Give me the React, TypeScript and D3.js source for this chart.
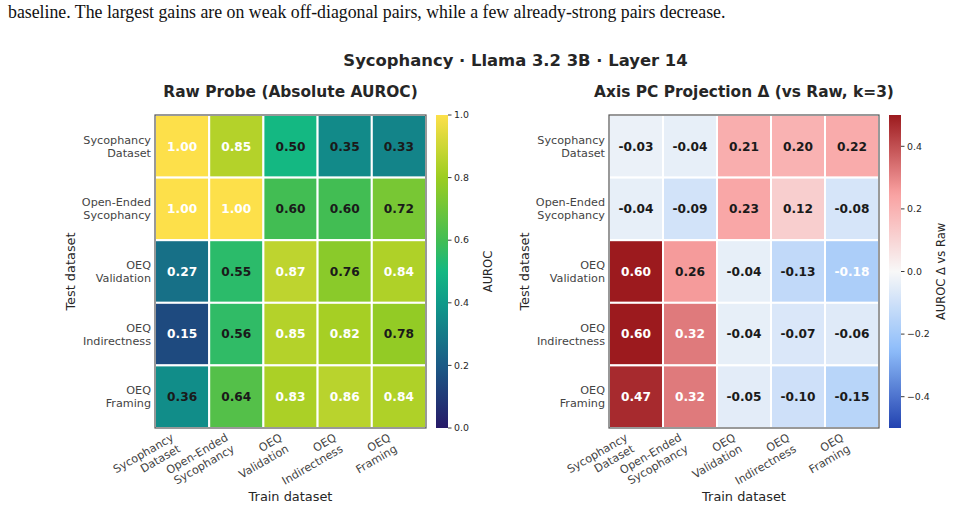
import React from 'react';
import * as d3 from 'd3';

// Row / column categories (two-line labels)
const trainSets = [
  ['Sycophancy', 'Dataset'],
  ['Open-Ended', 'Sycophancy'],
  ['OEQ', 'Validation'],
  ['OEQ', 'Indirectness'],
  ['OEQ', 'Framing'],
];
const testSets = trainSets;

// Raw probe AUROC, rows = test dataset, cols = train dataset
const rawAuroc = [
  [1.0, 0.85, 0.5, 0.35, 0.33],
  [1.0, 1.0, 0.6, 0.6, 0.72],
  [0.27, 0.55, 0.87, 0.76, 0.84],
  [0.15, 0.56, 0.85, 0.82, 0.78],
  [0.36, 0.64, 0.83, 0.86, 0.84],
];

// AUROC change of the axis PC projection relative to the raw probe
const deltaAuroc = [
  [-0.03, -0.04, 0.21, 0.2, 0.22],
  [-0.04, -0.09, 0.23, 0.12, -0.08],
  [0.6, 0.26, -0.04, -0.13, -0.18],
  [0.6, 0.32, -0.04, -0.07, -0.06],
  [0.47, 0.32, -0.05, -0.1, -0.15],
];

const rawTicks = [0, 0.2, 0.4, 0.6, 0.8, 1.0];
const deltaTicks = [-0.4, -0.2, 0, 0.2, 0.4];

const caption =
  'baseline. The largest gains are on weak off-diagonal pairs, while a few already-strong pairs decrease.';

const SANS = '"DejaVu Sans", Verdana, sans-serif';
const INK = '#262626';

const rawColor = d3
  .scaleLinear<string>()
  .domain([0, 0.2, 0.4, 0.5, 0.6, 0.8, 1.0])
  .range(['#271a68', '#1b5a86', '#0f9a8a', '#14b882', '#42bd53', '#9ccd20', '#fde04a'])
  .interpolate(d3.interpolateRgb)
  .clamp(true);

const deltaColor = d3
  .scaleLinear<string>()
  .domain([-0.5, -0.25, 0, 0.25, 0.5])
  .range(['#2242b0', '#8ebdfa', '#f8f8f8', '#f9a0a0', '#9c1a1e'])
  .interpolate(d3.interpolateRgb)
  .clamp(true);

type PanelProps = {
  id: string;
  x0: number;
  x1: number;
  title: string;
  values: number[][];
  color: (v: number) => string;
  domain: [number, number];
  ticks: number[];
  tickFmt: (v: number) => string;
  cbLabel: string;
  whiteText: (v: number) => boolean;
};

const Y0 = 115;
const Y1 = 428;

function Heatmap(p: PanelProps) {
  const x = d3.scaleBand<number>().domain(d3.range(trainSets.length)).range([p.x0, p.x1]);
  const y = d3.scaleBand<number>().domain(d3.range(testSets.length)).range([Y0, Y1]);
  const cbX = p.x1 + 10;
  const cbW = 12;
  const cy = d3.scaleLinear().domain(p.domain).range([Y1, Y0]);
  const gradStops = d3.range(0, 1.0001, 0.02).map((t) => ({
    t,
    c: p.color(p.domain[0] + t * (p.domain[1] - p.domain[0])),
  }));
  const midX = (p.x0 + p.x1) / 2;
  const midY = (Y0 + Y1) / 2;

  return (
    <g>
      <defs>
        <linearGradient id={p.id} x1="0" y1="1" x2="0" y2="0">
          {gradStops.map((s) => (
            <stop key={s.t} offset={s.t} stopColor={s.c} />
          ))}
        </linearGradient>
      </defs>

      <text x={midX} y={96.5} textAnchor="middle" fontFamily={SANS} fontWeight="bold" fontSize={15.4} fill={INK}>
        {p.title}
      </text>

      {p.values.map((row, r) =>
        row.map((v, c) => (
          <g key={`${r}-${c}`}>
            <rect
              x={x(c)}
              y={y(r)}
              width={x.bandwidth()}
              height={y.bandwidth()}
              fill={p.color(v)}
              stroke="#fff"
              strokeWidth={2}
            />
            <text
              x={(x(c) as number) + x.bandwidth() / 2}
              y={(y(r) as number) + y.bandwidth() / 2}
              dy="0.36em"
              textAnchor="middle"
              fontFamily={SANS}
              fontWeight="bold"
              fontSize={12.2}
              fill={p.whiteText(v) ? '#ffffff' : '#1a1a1a'}
            >
              {v.toFixed(2)}
            </text>
          </g>
        ))
      )}
      <rect x={p.x0} y={Y0} width={p.x1 - p.x0} height={Y1 - Y0} fill="none" stroke="#555" strokeWidth={1.2} />

      {/* row labels */}
      {testSets.map((lines, r) => (
        <text
          key={r}
          x={p.x0 - 4}
          y={(y(r) as number) + y.bandwidth() / 2}
          textAnchor="end"
          fontFamily={SANS}
          fontSize={11.2}
          fill="#444"
        >
          <tspan x={p.x0 - 4} dy={-2.5}>{lines[0]}</tspan>
          <tspan x={p.x0 - 4} dy={13}>{lines[1]}</tspan>
        </text>
      ))}

      {/* column labels, rotated */}
      {trainSets.map((lines, c) => {
        const cx = (x(c) as number) + x.bandwidth() / 2;
        return (
          <text
            key={c}
            transform={`translate(${cx - 12},${Y1 + 4}) rotate(-30)`}
            textAnchor="end"
            fontFamily={SANS}
            fontSize={11.2}
            fill="#444"
          >
            <tspan x={0} dy={9}>{lines[0]}</tspan>
            <tspan x={0} dy={13}>{lines[1]}</tspan>
          </text>
        );
      })}

      <text x={midX} y={501} textAnchor="middle" fontFamily={SANS} fontSize={12.9} fill={INK}>
        Train dataset
      </text>
      <text
        transform={`translate(${p.x0 - 80},${midY}) rotate(-90)`}
        textAnchor="middle"
        fontFamily={SANS}
        fontSize={12.9}
        fill={INK}
      >
        Test dataset
      </text>

      {/* colour bar */}
      <rect x={cbX} y={Y0} width={cbW} height={Y1 - Y0} fill={`url(#${p.id})`} />
      {p.ticks.map((t) => (
        <g key={t}>
          <line x1={cbX + cbW} x2={cbX + cbW + 3.5} y1={cy(t)} y2={cy(t)} stroke={INK} strokeWidth={0.9} />
          <text x={cbX + cbW + 6} y={cy(t)} dy="0.35em" fontFamily={SANS} fontSize={9.4} fill={INK}>
            {p.tickFmt(t)}
          </text>
        </g>
      ))}
      <text
        transform={`translate(${cbX + 56},${midY}) rotate(-90)`}
        textAnchor="middle"
        fontFamily={SANS}
        fontSize={11.5}
        fill={INK}
      >
        {p.cbLabel}
      </text>
    </g>
  );
}

export default function App() {
  const fmt = (v: number) => (v < 0 ? '\u2212' : '') + Math.abs(v).toFixed(1);
  return (
    <svg
      width={960}
      height={510}
      viewBox="0 0 960 510"
      style={{ position: 'absolute', left: 0, top: 0, background: '#fff' }}
    >
      <text x={8} y={18} fontFamily='"Liberation Serif", "Times New Roman", serif' fontSize={17.8} fill="#111">
        {caption}
      </text>
      <text x={515.5} y={66} textAnchor="middle" fontFamily={SANS} fontWeight="bold" fontSize={16.4} fill={INK}>
        Sycophancy · Llama 3.2 3B · Layer 14
      </text>
      <Heatmap
        id="cb-raw"
        x0={155}
        x1={426}
        title="Raw Probe (Absolute AUROC)"
        values={rawAuroc}
        color={rawColor}
        domain={[0, 1]}
        ticks={rawTicks}
        tickFmt={fmt}
        cbLabel="AUROC"
        whiteText={(v) => v > 0.8 || v < 0.3}
      />
      <Heatmap
        id="cb-delta"
        x0={609}
        x1={879}
        title="Axis PC Projection Δ (vs Raw, k=3)"
        values={deltaAuroc}
        color={deltaColor}
        domain={[-0.5, 0.5]}
        ticks={deltaTicks}
        tickFmt={fmt}
        cbLabel="AUROC Δ vs Raw"
        whiteText={(v) => v > 0.3 || v < -0.16}
      />
    </svg>
  );
}
